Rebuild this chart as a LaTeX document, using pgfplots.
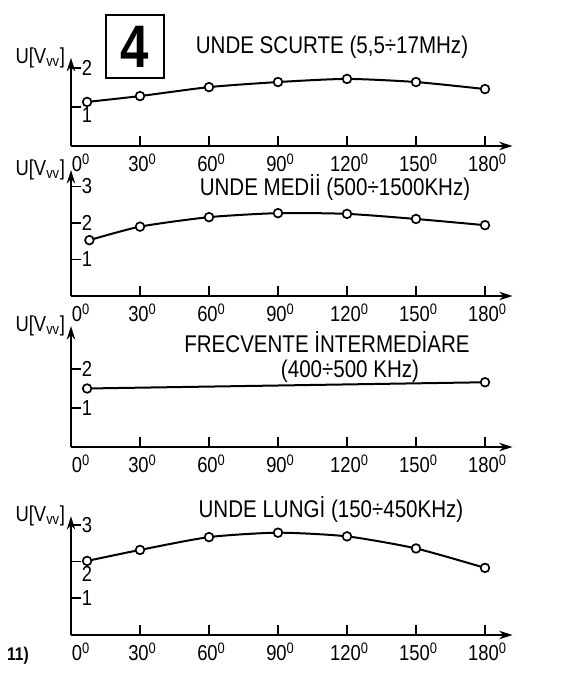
\documentclass[border=0pt]{standalone}
\usepackage{pgfplots}
\pgfplotsset{compat=1.18}
\usetikzlibrary{arrows.meta}
\usepackage{fontspec}
\setmainfont{Liberation Sans}[FakeStretch=0.85]

\pgfplotsset{
  panel/.style={
    anchor=origin, x=1.38pt,
    xmin=0, xmax=192, ymin=0,
    axis lines=left, enlargelimits=false, clip=false,
    axis line style={line width=1.3pt, -{Stealth[length=8pt,width=5pt]}},
    tick align=inside, major tick length=6pt,
    every tick/.style={black, line width=1pt},
    xtick={0,30,...,180},
    xticklabels={\hspace{9pt}0\textsuperscript{0},30\textsuperscript{0},60\textsuperscript{0},90\textsuperscript{0},120\textsuperscript{0},150\textsuperscript{0},180\textsuperscript{0}},
    xticklabel style={font=\fontsize{13}{14}\selectfont, yshift=-1pt, xshift=1.5pt},
    yticklabel style={font=\fontsize{13}{14}\selectfont, anchor=west, xshift=3pt},
  },
  curve/.style={black, line width=1.2pt, smooth, tension=0.4, mark=*,
    mark size=2.6pt, mark options={fill=white, line width=1pt}},
}
\tikzset{ulabel/.style={anchor=east, font=\fontsize{13}{14}\selectfont}}

\begin{document}
\begin{tikzpicture}
\useasboundingbox (0,0) rectangle (340.2pt,405pt);

% panel 1: unde scurte
\begin{axis}[panel, at={(42.6pt,317.4pt)}, y=23.4pt, ymax=2.26,
  ytick={1,2}, yticklabels={\raisebox{-9.5pt}[0pt][0pt]{1},2}]
\addplot[curve] coordinates {(7,1.13) (30,1.28) (60,1.51) (90,1.64) (120,1.72) (150,1.64) (180,1.46)};
\node[ulabel] at (rel axis cs:0,1) {U[V\textsubscript{vv}]};
\end{axis}

% panel 2: unde medii
\begin{axis}[panel, at={(42.6pt,227.4pt)}, y=21.9pt, ymax=3.45,
  ytick={1,2,3}, yticklabels={1,2,3}]
\addplot[curve] coordinates {(8,1.53) (30,1.90) (60,2.16) (90,2.27) (120,2.25) (150,2.11) (180,1.94)};
\node[ulabel] at (rel axis cs:0,1) {U[V\textsubscript{vv}]};
\end{axis}

% panel 3: frecvente intermediare
\begin{axis}[panel, at={(42.6pt,136.8pt)}, y=23.4pt, ymax=3.1,
  ytick={1,2}, yticklabels={1,2}]
\addplot[curve] coordinates {(7,1.50) (180,1.66)};
\node[ulabel] at (rel axis cs:0,1) {U[V\textsubscript{vv}]};
\end{axis}

% panel 4: unde lungi
\begin{axis}[panel, at={(42.6pt,24pt)}, y=22pt, ymax=3.24,
  ytick={1,2,3}, yticklabels={1,\raisebox{-12pt}[0pt][0pt]{2},3}]
\addplot[curve] coordinates {(7,2.02) (30,2.32) (60,2.67) (90,2.79) (120,2.69) (150,2.36) (180,1.83)};
\node[ulabel] at (rel axis cs:0,1) {U[V\textsubscript{vv}]};
\end{axis}

% titles, in pixel units from the top left corner
\begin{scope}[x=0.6pt, y=-0.6pt, shift={(0,405pt)}, font=\fontsize{14.5}{16}\selectfont]
\draw[line width=1.6pt] (106,15) rectangle (164,78);
\node[font=\fontsize{36}{36}\bfseries] at (135,47) {4};
\node at (332,47) {UNDE SCURTE (5,5÷17MHz)};
\node at (335,188) {UNDE MEDİİ (500÷1500KHz)};
\node at (327,342) {FRECVENTE İNTERMEDİARE};
\node at (350,371) {(400÷500 KHz)};
\node at (331,510) {UNDE LUNGİ (150÷450KHz)};
\node[font=\fontsize{11}{12}\bfseries] at (18,656) {11)};
\end{scope}
\end{tikzpicture}
\end{document}
